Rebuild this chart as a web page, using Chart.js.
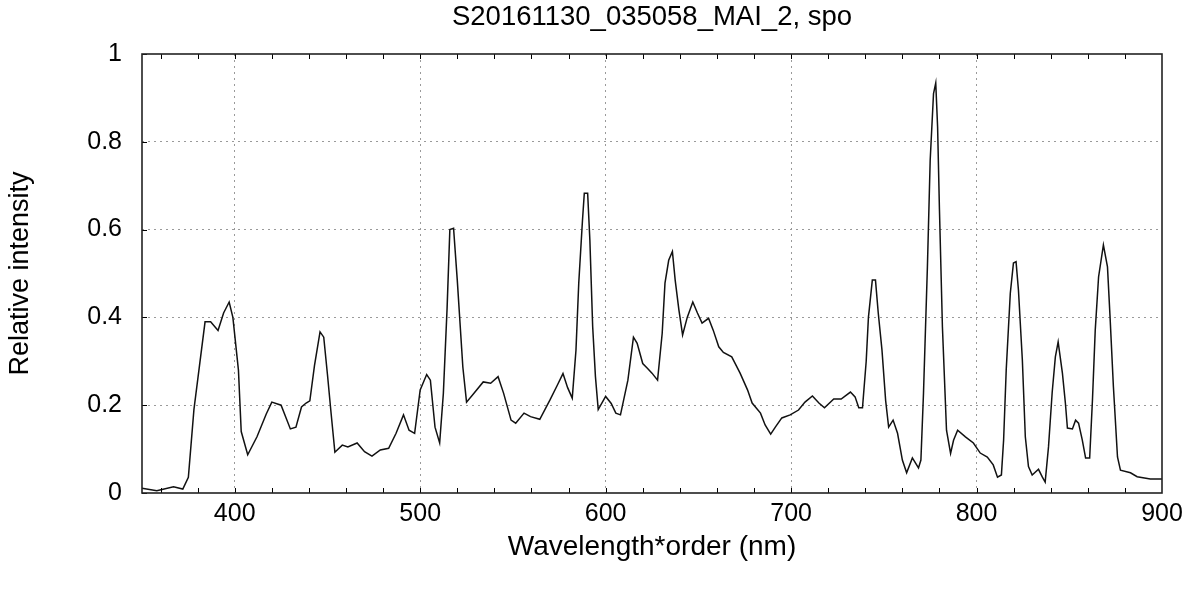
<!DOCTYPE html>
<html>
<head>
    <title>S20161130_035058_MAI_2, spo</title>
    <script src="https://cdn.jsdelivr.net/npm/chart.js"></script>
    <style>
        body { margin: 0; background: #fff; }
        #specChart { display: block; }
    </style>
</head>
<body>
    <canvas id="specChart" width="1197" height="592"></canvas>
    <script>
        // wavelength*order (nm) and relative intensity
        const wavelengths = [350, 358, 367, 372, 375, 378, 381, 384, 387, 391, 394, 397, 399, 402, 403.5, 407, 412, 417, 420, 425,
            430, 433, 436, 438.5, 440.5, 443, 446, 448, 450, 452, 454, 458, 461, 466, 470, 474, 478.5, 483, 487, 491,
            494, 497, 500, 503.5, 505.5, 508, 510.5, 512.5, 514.5, 516, 518, 520, 523, 525, 529, 534, 538, 542, 545, 549,
            551.5, 556, 559.5, 564.5, 570, 574, 577, 579.5, 582, 584, 585.5, 587.5, 588.5, 590.3, 591.5, 593, 594.5, 596, 600, 603,
            605.5, 608, 612, 615, 617, 620, 622.5, 625, 628, 630.5, 632, 634, 636, 637.5, 639.5, 641.5, 644, 647, 649.5, 652,
            655.5, 658, 661, 663.5, 668, 672.5, 676.5, 679, 683.5, 686, 689, 691.5, 695, 699.5, 704, 707.5, 711.5, 715, 718, 723,
            727, 732, 734.5, 736.5, 738.5, 740.5, 741.7, 743.8, 745.5, 747, 749, 751, 752.6, 755, 757.4, 760, 762.3, 765.4, 768.7, 770,
            771.4, 773.5, 775, 776.8, 778, 779, 780, 781.6, 783.8, 786, 787.6, 789.8, 794, 798.3, 802, 805.8, 809, 811.3, 813.4, 814.6,
            816, 818.2, 819.9, 821.3, 822.6, 824.7, 826.3, 828, 830, 833.4, 835.5, 837, 838.8, 840.8, 842.5, 844, 846.3, 847.9, 849, 851.7,
            853.4, 855, 857, 858.8, 861, 862.5, 864, 865.8, 868.4, 870.6, 872, 873.8, 876, 877.6, 883, 886.6, 893.7, 900];
        const intensity = [0.011, 0.005, 0.014, 0.009, 0.036, 0.19, 0.29, 0.39, 0.39, 0.37, 0.41, 0.435, 0.40, 0.28, 0.14, 0.087, 0.128, 0.18, 0.207, 0.20,
            0.146, 0.15, 0.196, 0.205, 0.21, 0.29, 0.367, 0.355, 0.27, 0.18, 0.093, 0.109, 0.105, 0.114, 0.094, 0.084, 0.098, 0.102, 0.136, 0.178,
            0.143, 0.136, 0.235, 0.27, 0.257, 0.15, 0.114, 0.227, 0.42, 0.60, 0.603, 0.485, 0.287, 0.207, 0.227, 0.253, 0.25, 0.265, 0.227, 0.166,
            0.159, 0.182, 0.174, 0.168, 0.212, 0.246, 0.272, 0.24, 0.216, 0.325, 0.478, 0.62, 0.683, 0.683, 0.576, 0.38, 0.265, 0.19, 0.22, 0.204,
            0.182, 0.178, 0.257, 0.355, 0.341, 0.295, 0.284, 0.273, 0.257, 0.364, 0.478, 0.53, 0.55, 0.485, 0.417, 0.36, 0.40, 0.435, 0.41, 0.387,
            0.398, 0.371, 0.333, 0.32, 0.31, 0.273, 0.235, 0.205, 0.182, 0.155, 0.134, 0.15, 0.171, 0.178, 0.189, 0.207, 0.221, 0.205, 0.194, 0.214,
            0.214, 0.23, 0.219, 0.194, 0.194, 0.30, 0.40, 0.485, 0.485, 0.41, 0.326, 0.21, 0.15, 0.166, 0.136, 0.075, 0.046, 0.08, 0.057, 0.075,
            0.228, 0.515, 0.758, 0.91, 0.934, 0.834, 0.645, 0.378, 0.143, 0.09, 0.12, 0.143, 0.128, 0.114, 0.091, 0.082, 0.064, 0.036, 0.041, 0.121,
            0.28, 0.455, 0.524, 0.527, 0.462, 0.303, 0.128, 0.06, 0.041, 0.054, 0.036, 0.025, 0.105, 0.23, 0.31, 0.344, 0.273, 0.205, 0.148, 0.146,
            0.166, 0.159, 0.121, 0.08, 0.08, 0.212, 0.371, 0.492, 0.565, 0.515, 0.40, 0.242, 0.082, 0.052, 0.046, 0.037, 0.032, 0.032];

        const xLabels = [400, 500, 600, 700, 800, 900];
        const xMinor = [360, 380, 400, 420, 440, 460, 480, 500, 520, 540, 560, 580, 600, 620, 640, 660, 680, 700,
            720, 740, 760, 780, 800, 820, 840, 860, 880];
        const yLabels = [0, 0.2, 0.4, 0.6, 0.8, 1];

        const font = 'Liberation Sans, Arial, sans-serif';

        // inward tick marks and the closed frame, like the original plot
        const frame = {
            id: 'frame',
            afterDraw(chart) {
                const { ctx, chartArea: a, scales } = chart;
                ctx.save();
                ctx.strokeStyle = '#000';
                ctx.lineWidth = 1;
                ctx.beginPath();
                xMinor.forEach(v => {
                    const px = Math.round(scales.x.getPixelForValue(v)) + 0.5;
                    ctx.moveTo(px, a.bottom); ctx.lineTo(px, a.bottom - 5);
                    ctx.moveTo(px, a.top); ctx.lineTo(px, a.top + 5);
                });
                yLabels.forEach(v => {
                    const py = Math.round(scales.y.getPixelForValue(v)) + 0.5;
                    ctx.moveTo(a.left, py); ctx.lineTo(a.left + 5, py);
                });
                ctx.stroke();
                ctx.strokeStyle = '#222';
                ctx.lineWidth = 1.6;
                ctx.strokeRect(a.left, a.top, a.right - a.left, a.bottom - a.top);
                ctx.restore();
            }
        };

        new Chart(document.getElementById('specChart'), {
            type: 'line',
            data: {
                datasets: [{
                    data: wavelengths.map((w, i) => ({ x: w, y: intensity[i] })),
                    borderColor: '#111',
                    borderWidth: 1.5,
                    pointRadius: 0,
                    tension: 0
                }]
            },
            options: {
                responsive: false,
                animation: false,
                layout: { padding: { right: 35, left: 0, top: 0, bottom: 0 } },
                plugins: {
                    legend: { display: false },
                    tooltip: { enabled: false },
                    title: {
                        display: true,
                        fullSize: false,
                        text: 'S20161130_035058_MAI_2, spo',
                        color: '#000',
                        font: { family: font, size: 27.5, weight: 'normal' },
                        padding: { top: 1, bottom: 20 }
                    }
                },
                scales: {
                    x: {
                        type: 'linear',
                        min: 350,
                        max: 900,
                        afterBuildTicks: s => { s.ticks = xLabels.map(v => ({ value: v })); },
                        afterFit: s => { s.height = 99; },
                        ticks: {
                            autoSkip: false,
                            maxRotation: 0,
                            padding: 6,
                            color: '#000',
                            font: { family: font, size: 25 }
                        },
                        grid: {
                            drawTicks: false,
                            color: c => (c.tick && c.tick.value < 900) ? '#9a9a9a' : 'transparent',
                            lineWidth: 1
                        },
                        border: { display: false, dash: [2, 4] },
                        title: {
                            display: true,
                            text: 'Wavelength*order (nm)',
                            color: '#000',
                            font: { family: font, size: 28 },
                            padding: { top: 4, bottom: 28 }
                        }
                    },
                    y: {
                        min: 0,
                        max: 1,
                        afterBuildTicks: s => { s.ticks = yLabels.map(v => ({ value: v })); },
                        afterFit: s => { s.width = 142; },
                        ticks: {
                            padding: 20,
                            color: '#000',
                            font: { family: font, size: 25 },
                            callback: v => String(+v.toFixed(1))
                        },
                        grid: {
                            drawTicks: false,
                            color: c => (c.tick && c.tick.value > 0 && c.tick.value < 1) ? '#9a9a9a' : 'transparent',
                            lineWidth: 1
                        },
                        border: { display: false, dash: [2, 4] },
                        title: {
                            display: true,
                            text: 'Relative intensity',
                            color: '#000',
                            font: { family: font, size: 27 },
                            padding: { top: 4 }
                        }
                    }
                }
            },
            plugins: [frame]
        });
    </script>
</body>
</html>
